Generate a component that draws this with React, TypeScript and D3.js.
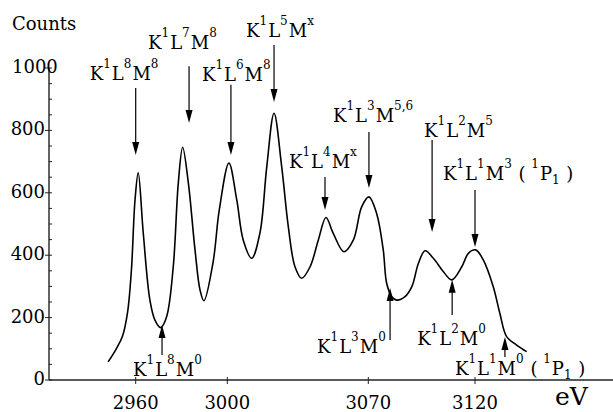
import React from "react";
import * as d3 from "d3";

// spectrum (eV, counts)
const energy = [
  2947.9, 2951.5, 2954.2, 2956.4, 2958.1, 2959.7, 2961.1, 2963.3, 2966.2, 2968.4, 2970.9,
  2973.5, 2976.4, 2978.6, 2980.5, 2983.0, 2985.9, 2988.1, 2989.8, 2993.8, 2996.5,
  3000.8, 3004.7, 3007.9, 3012.1, 3016.2, 3019.6, 3023.2, 3027.0, 3030.3, 3033.6,
  3036.9, 3041.1, 3045.2, 3049.0, 3052.6, 3057.9, 3062.6, 3066.7, 3070.3, 3073.9,
  3077.0, 3078.6, 3081.0, 3083.3, 3087.2, 3090.4, 3093.5, 3096.6, 3100.5, 3105.2,
  3109.1, 3113.8, 3116.9, 3120.3, 3123.9, 3128.6, 3131.7, 3134.9, 3139.6, 3144.3,
];
const counts = [
  58, 100, 140, 215, 350, 577, 664, 471, 256, 192, 168,
  203, 363, 631, 746, 631, 417, 288, 254, 378, 545,
  695, 577, 449, 390, 471, 684, 855, 684, 491, 363,
  326, 363, 449, 521, 470, 411, 449, 555, 587, 534,
  417, 310, 267, 256, 267, 299, 374, 414, 390, 347,
  321, 363, 406, 417, 385, 299, 214, 139, 112, 91,
];

const xTicks = [2960, 3000, 3070, 3120];
const yTicks = [0, 200, 400, 600, 800, 1000];
const yMinorStep = 50;

// peak annotations: label, arrow energy, arrow head count, arrow tail count
const peakNames = [
  "K^{1}L^{8}M^{8}",
  "K^{1}L^{7}M^{8}",
  "K^{1}L^{6}M^{8}",
  "K^{1}L^{5}M^{x}",
  "K^{1}L^{4}M^{x}",
  "K^{1}L^{3}M^{5,6}",
  "K^{1}L^{2}M^{5}",
  "K^{1}L^{1}M^{3} ( ^{1}P_{1} )",
  "K^{1}L^{8}M^{0}",
  "K^{1}L^{3}M^{0}",
  "K^{1}L^{2}M^{0}",
  "K^{1}L^{1}M^{0} ( ^{1}P_{1} )",
];
const arrowEnergy = [2960, 2983.3, 3001.8, 3023.2, 3048.5, 3070.3, 3099.9, 3120, 2971.5, 3080.2, 3109.3, 3134.1];
const arrowHead = [721, 824, 721, 891, 545, 615, 474, 426, 176, 295, 321, 138];
const arrowTail = [936, 1006, 946, 1074, 651, 795, 769, 609, 80, 128, 208, 74];

// label placement relative to arrow tail (px)
const labelOffset: [number, number][] = [
  [-46, -8], [-41, -17], [-29, -4], [-28, -8], [-36, -9], [-36, -10],
  [-8, -3], [-32, -10], [-29, 21], [-73, 13], [-35, 30], [-50, 18],
];

const W = 613;
const H = 412;
const serif = "'DejaVu Serif', serif";

function Formula({ text, x, y }: { text: string; x: number; y: number }) {
  const re = /\^\{([^}]*)\}|_\{([^}]*)\}|([^^_]+)/g;
  const parts: { t: string; k: string }[] = [];
  let m;
  while ((m = re.exec(text))) {
    if (m[1] !== undefined) parts.push({ t: m[1], k: "sup" });
    else if (m[2] !== undefined) parts.push({ t: m[2], k: "sub" });
    else parts.push({ t: m[3], k: "base" });
  }
  let shift = 0;
  return (
    <text x={x} y={y} fontFamily={serif} fontSize={18} style={{ whiteSpace: "pre" }}>
      {parts.map((p, i) => {
        const target = p.k === "sup" ? -12 : p.k === "sub" ? 4 : 0;
        const dy = target - shift;
        shift = target;
        return (
          <tspan key={i} dy={dy} dx={p.k === "base" && i > 0 ? 1 : 0} fontSize={p.k === "base" ? 18 : 12}>
            {p.t}
          </tspan>
        );
      })}
    </text>
  );
}

export default function App() {
  // the printed energy axis is not uniform, so map it piecewise
  const x = d3
    .scaleLinear()
    .domain([2922, 2960, 3000, 3070, 3120, 3185])
    .range([49, 135.7, 227.3, 368.3, 475, 613]);
  const y = d3.scaleLinear().domain([0, 1000]).range([380, 68]);

  const line = d3
    .line<number>()
    .x((d, i) => x(energy[i]))
    .y((d) => y(d))
    .curve(d3.curveCatmullRom.alpha(0.5));

  const minor = d3.range(0, 1000 + 1, yMinorStep);

  return (
    <svg width={W} height={H} style={{ position: "absolute", left: 0, top: 0, background: "#fff" }}>
      {/* axes */}
      <line x1={x(2922)} x2={W} y1={y(0)} y2={y(0)} stroke="#222" strokeWidth={1.4} />
      <line x1={x(2922)} x2={x(2922)} y1={y(0)} y2={y(1000)} stroke="#222" strokeWidth={1.4} />
      {minor.map((d) => (
        <line key={d} x1={x(2922)} x2={x(2922) + 3} y1={y(d)} y2={y(d)} stroke="#222" strokeWidth={1} />
      ))}
      {yTicks.map((d) => (
        <g key={d}>
          <line x1={x(2922) - 4} x2={x(2922)} y1={y(d)} y2={y(d)} stroke="#222" strokeWidth={1} />
          <text
            x={d === 1000 ? 12 : x(2922) - 4}
            y={y(d) + 5}
            textAnchor={d === 1000 ? "start" : "end"}
            fontFamily={serif}
            fontSize={18}
          >
            {d}
          </text>
        </g>
      ))}
      {xTicks.map((d) => (
        <g key={d}>
          <line x1={x(d)} x2={x(d)} y1={y(0) - 3} y2={y(0) + 4} stroke="#222" strokeWidth={1} />
          <text x={x(d)} y={409} textAnchor="middle" fontFamily={serif} fontSize={18}>
            {d}
          </text>
        </g>
      ))}
      <text x={12} y={30} fontFamily={serif} fontSize={18}>
        Counts
      </text>
      <text x={555} y={405} fontFamily={serif} fontSize={25}>
        eV
      </text>

      {/* spectrum */}
      <path d={line(counts) || ""} fill="none" stroke="#000" strokeWidth={1.6} />

      {/* annotations */}
      {peakNames.map((name, i) => {
        const ax = x(arrowEnergy[i]);
        const hy = y(arrowHead[i]);
        const ty = y(arrowTail[i]);
        const dir = hy > ty ? 1 : -1;
        const [dx, dy] = labelOffset[i];
        return (
          <g key={i}>
            <line x1={ax} x2={ax} y1={ty} y2={hy - dir * 8} stroke="#000" strokeWidth={1.2} />
            <path
              d={`M${ax},${hy} L${ax - 3.5},${hy - dir * 13} L${ax + 3.5},${hy - dir * 13} Z`}
              fill="#000"
            />
            <Formula text={name} x={ax + dx} y={ty + dy} />
          </g>
        );
      })}
    </svg>
  );
}
